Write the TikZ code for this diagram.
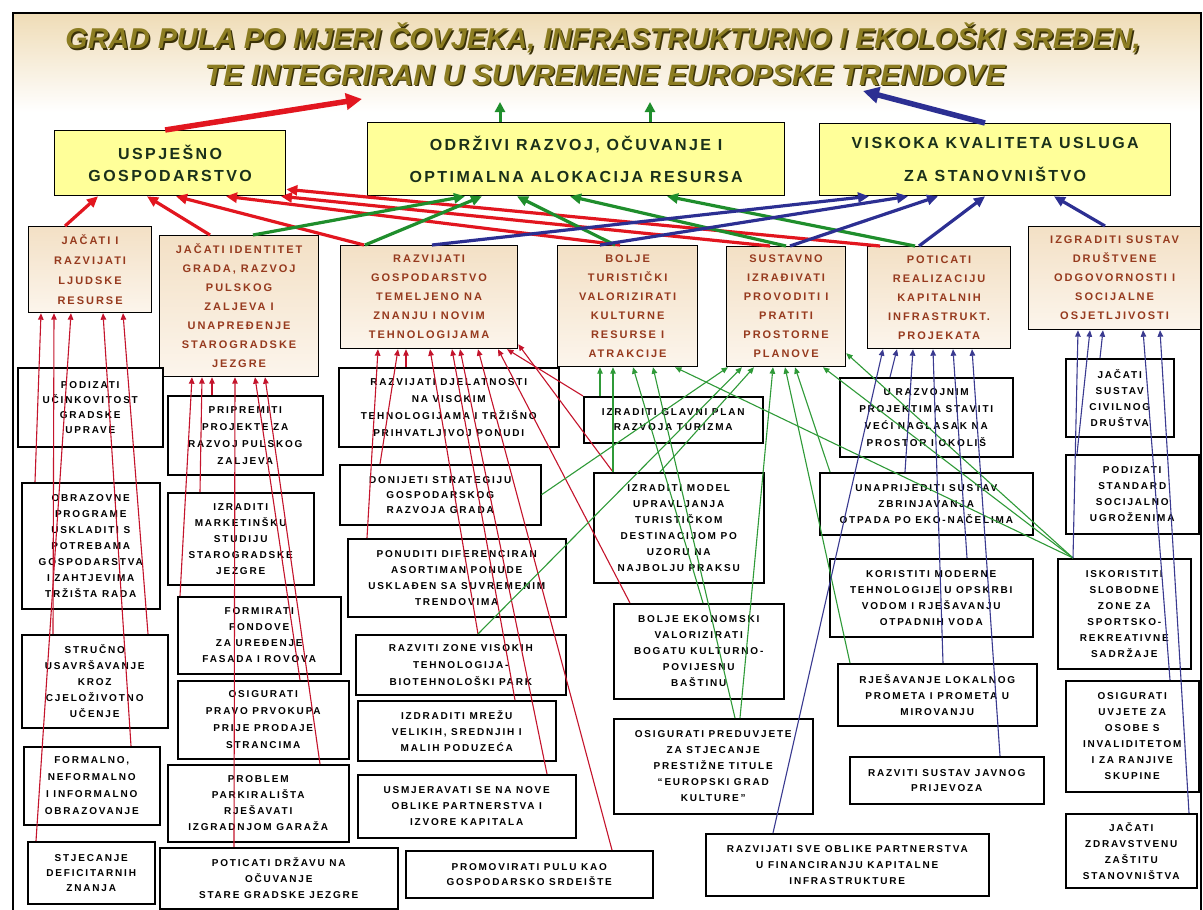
\documentclass[tikz,border=0pt]{standalone}
\usepackage{fontspec}
\usepackage{graphicx}
\setmainfont{Liberation Sans}
\newfontfamily\lvone[LetterSpace=15]{Liberation Sans}
\newfontfamily\lvtwo[LetterSpace=18]{Liberation Sans}
\newfontfamily\lvthree[LetterSpace=18]{Liberation Sans}
\newfontfamily\ttlfont{Liberation Sans}
\usetikzlibrary{arrows.meta}
\definecolor{tred}{HTML}{E2161F}
\definecolor{tgreen}{HTML}{1F8E2C}
\definecolor{tblue}{HTML}{2C2F92}
\definecolor{hred}{HTML}{C4142C}
\definecolor{hgreen}{HTML}{2F9A38}
\definecolor{hblue}{HTML}{3A3A90}
\definecolor{lonefill}{HTML}{FFFF99}
\definecolor{lonetext}{HTML}{1A301A}
\definecolor{ltwotop}{HTML}{F3E0C5}
\definecolor{ltwobot}{HTML}{FCF5EC}
\definecolor{ltwotext}{HTML}{963A1E}
\definecolor{ttlfill}{HTML}{8C7D22}
\definecolor{ttlshadow}{HTML}{3A3108}
\definecolor{bandtop}{HTML}{EFDCB6}
\newcommand\bx[7]{\node[#6, minimum width={(#4-#2)*1pt}, minimum height={(#5-#3)*1pt}, anchor=north west] (#1) at (#2,#3) {#7};}
\newcommand\lk[5][]{\draw[#1] ([xshift=#3pt]#2.north west) -- ([xshift=#5pt]#4.south west);}
\begin{document}
\begin{tikzpicture}[x=1pt,y=-1pt,
  l1/.style={draw=black, line width=1.3pt, fill=lonefill, text=lonetext, align=center, inner sep=0pt, font=\lvone\bfseries\fontsize{16}{#1}\selectfont},
  l1/.default=22,
  l2/.style={draw=black, line width=1.2pt, top color=ltwotop, bottom color=ltwobot, text=ltwotext, align=center, inner sep=0pt, font=\lvtwo\bfseries\fontsize{11}{#1}\selectfont},
  l2/.default=19,
  l3/.style={draw=black, line width=1.5pt, fill=white, align=center, inner sep=0pt, font=\lvthree\bfseries\fontsize{10}{#1}\selectfont},
  l3/.default=16,
  thk/.style={line width=3.2pt, -{Triangle[length=11pt,width=10pt]}},
  thn/.style={line width=1.1pt, -{Triangle[length=6.5pt,width=5.5pt]}},
  big/.style={line width=5.5pt, -{Triangle[length=16pt,width=16pt]}},
  ttl/.style={text=ttlfill, inner sep=0pt, font=\ttlfont\bfseries\itshape\fontsize{26}{30}\selectfont},
  ttlsh/.style={text=ttlshadow, inner sep=0pt, font=\ttlfont\bfseries\itshape\fontsize{26}{30}\selectfont}
]
\useasboundingbox (0,0) rectangle (1203,910);
\fill[white] (0,0) rectangle (1203,910);
\shade[top color=bandtop, bottom color=white] (13,13) rectangle (1201,112);
\draw[line width=2pt] (13,920) -- (13,13) -- (1201,13) -- (1201,920);

% title
\node[ttlsh] (t1s) at (604.5,39.5) {\resizebox{1075pt}{!}{GRAD PULA PO MJERI ČOVJEKA, INFRASTRUKTURNO I EKOLOŠKI SREĐEN,}};
\node[ttl] (t1) at (603,38) {\resizebox{1075pt}{!}{GRAD PULA PO MJERI ČOVJEKA, INFRASTRUKTURNO I EKOLOŠKI SREĐEN,}};
\node[ttlsh] (t2s) at (606.5,76.5) {\resizebox{800pt}{!}{TE INTEGRIRAN U SUVREMENE EUROPSKE TRENDOVE}};
\node[ttl] (t2) at (605,75) {\resizebox{800pt}{!}{TE INTEGRIRAN U SUVREMENE EUROPSKE TRENDOVE}};

% level 1
\bx{L1a}{54}{130}{285}{195}{l1=22}{USPJEŠNO\\GOSPODARSTVO}
\bx{L1b}{367}{122}{784}{195}{l1=32}{ODRŽIVI RAZVOJ, OČUVANJE I\\OPTIMALNA ALOKACIJA RESURSA}
\bx{L1c}{819}{123}{1170}{195}{l1=33}{VISKOKA KVALITETA USLUGA\\ZA STANOVNIŠTVO}

% level 2
\bx{L2a}{28}{226}{151}{312}{l2=20}{JAČATI I\\RAZVIJATI\\LJUDSKE\\RESURSE}
\bx{L2b}{159}{235}{318}{376}{l2}{JAČATI IDENTITET\\GRADA, RAZVOJ\\PULSKOG\\ZALJEVA I\\UNAPREĐENJE\\STAROGRADSKE\\JEZGRE}
\bx{L2c}{340}{245}{517}{348}{l2}{RAZVIJATI\\GOSPODARSTVO\\TEMELJENO NA\\ZNANJU I NOVIM\\TEHNOLOGIJAMA}
\bx{L2d}{557}{245}{697}{366}{l2}{BOLJE\\TURISTIČKI\\VALORIZIRATI\\KULTURNE\\RESURSE I\\ATRAKCIJE}
\bx{L2e}{726}{246}{845}{366}{l2}{SUSTAVNO\\IZRAĐIVATI\\PROVODITI I\\PRATITI\\PROSTORNE\\PLANOVE}
\bx{L2f}{867}{246}{1010}{348}{l2}{POTICATI\\REALIZACIJU\\KAPITALNIH\\INFRASTRUKT.\\PROJEKATA}
\bx{L2g}{1028}{226}{1200}{329}{l2}{IZGRADITI SUSTAV\\DRUŠTVENE\\ODGOVORNOSTI I\\SOCIJALNE\\OSJETLJIVOSTI}

% level 3
\bx{A1}{17}{367}{162}{446}{l3=15}{PODIZATI\\UČINKOVITOST\\GRADSKE\\UPRAVE}
\bx{A2}{21}{482}{159}{608}{l3}{OBRAZOVNE\\PROGRAME\\USKLADITI S\\POTREBAMA\\GOSPODARSTVA\\I ZAHTJEVIMA\\TRŽIŠTA RADA}
\bx{A3}{21}{634}{167}{727}{l3}{STRUČNO\\USAVRŠAVANJE\\KROZ\\CJELOŽIVOTNO\\UČENJE}
\bx{A4}{23}{746}{159}{824}{l3=17}{FORMALNO,\\NEFORMALNO\\I INFORMALNO\\OBRAZOVANJE}
\bx{A5}{27}{841}{154}{903}{l3=15}{STJECANJE\\DEFICITARNIH\\ZNANJA}
\bx{B1}{167}{395}{322}{474}{l3=17}{PRIPREMITI\\PROJEKTE ZA\\RAZVOJ PULSKOG\\ZALJEVA}
\bx{B2}{167}{492}{313}{584}{l3}{IZRADITI\\MARKETINŠKU\\STUDIJU\\STAROGRADSKE\\JEZGRE}
\bx{B3}{177}{596}{340}{673}{l3}{FORMIRATI\\FONDOVE\\ZA UREĐENJE\\FASADA I ROVOVA}
\bx{B4}{177}{680}{348}{758}{l3=17}{OSIGURATI\\PRAVO PRVOKUPA\\PRIJE PRODAJE\\STRANCIMA}
\bx{B5}{167}{764}{348}{841}{l3}{PROBLEM\\PARKIRALIŠTA\\RJEŠAVATI\\IZGRADNJOM GARAŽA}
\bx{B6}{159}{847}{397}{908}{l3}{POTICATI DRŽAVU NA\\OČUVANJE\\STARE GRADSKE JEZGRE}
\bx{C1}{338}{367}{558}{446}{l3=17}{RAZVIJATI DJELATNOSTI\\NA VISOKIM\\TEHNOLOGIJAMA I TRŽIŠNO\\PRIHVATLJIVOJ PONUDI}
\bx{C2}{339}{464}{540}{524}{l3=15}{DONIJETI STRATEGIJU\\GOSPODARSKOG\\RAZVOJA GRADA}
\bx{C3}{347}{538}{565}{616}{l3}{PONUDITI DIFERENCIRAN\\ASORTIMAN PONUDE\\USKLAĐEN SA SUVREMENIM\\TRENDOVIMA}
\bx{C4}{355}{634}{565}{694}{l3=17}{RAZVITI ZONE VISOKIH\\TEHNOLOGIJA-\\BIOTEHNOLOŠKI PARK}
\bx{C5}{357}{700}{555}{760}{l3}{IZDRADITI MREŽU\\VELIKIH, SREDNJIH I\\MALIH PODUZEĆA}
\bx{C6}{357}{774}{575}{837}{l3}{USMJERAVATI SE NA NOVE\\OBLIKE PARTNERSTVA I\\IZVORE KAPITALA}
\bx{C7}{405}{850}{652}{897}{l3=15}{PROMOVIRATI PULU KAO\\GOSPODARSKO SRDEIŠTE}
\bx{D1}{583}{396}{762}{442}{l3=15}{IZRADITI GLAVNI PLAN\\RAZVOJA TURIZMA}
\bx{D2}{593}{472}{763}{582}{l3}{IZRADITI MODEL\\UPRAVLJANJA\\TURISTIČKOM\\DESTINACIJOM PO\\UZORU NA\\NAJBOLJU PRAKSU}
\bx{D3}{613}{603}{783}{698}{l3}{BOLJE EKONOMSKI\\VALORIZIRATI\\BOGATU KULTURNO-\\POVIJESNU\\BAŠTINU}
\bx{D4}{613}{718}{812}{813}{l3}{OSIGURATI PREDUVJETE\\ZA STJECANJE\\PRESTIŽNE TITULE\\“EUROPSKI GRAD\\KULTURE”}
\bx{E1}{705}{833}{988}{895}{l3}{RAZVIJATI SVE OBLIKE PARTNERSTVA\\U FINANCIRANJU KAPITALNE\\INFRASTRUKTURE}
\bx{F1}{839}{377}{1012}{456}{l3=17}{U RAZVOJNIM\\PROJEKTIMA STAVITI\\VEĆI NAGLASAK NA\\PROSTOR I OKOLIŠ}
\bx{F2}{819}{472}{1032}{534}{l3}{UNAPRIJEDITI SUSTAV\\ZBRINJAVANJA\\OTPADA PO EKO-NAČELIMA}
\bx{F3}{829}{558}{1032}{636}{l3}{KORISTITI MODERNE\\TEHNOLOGIJE U OPSKRBI\\VODOM I RJEŠAVANJU\\OTPADNIH VODA}
\bx{F4}{837}{663}{1036}{725}{l3}{RJEŠAVANJE LOKALNOG\\PROMETA I PROMETA U\\MIROVANJU}
\bx{F5}{849}{756}{1043}{803}{l3=15}{RAZVITI SUSTAV JAVNOG\\PRIJEVOZA}
\bx{G1}{1065}{358}{1173}{436}{l3}{JAČATI\\SUSTAV\\CIVILNOG\\DRUŠTVA}
\bx{G2}{1065}{454}{1198}{533}{l3}{PODIZATI\\STANDARD\\SOCIJALNO\\UGROŽENIMA}
\bx{G3}{1057}{558}{1190}{668}{l3}{ISKORISTITI\\SLOBODNE\\ZONE ZA\\SPORTSKO-\\REKREATIVNE\\SADRŽAJE}
\bx{G4}{1065}{680}{1198}{791}{l3}{OSIGURATI\\UVJETE ZA\\OSOBE S\\INVALIDITETOM\\I ZA RANJIVE\\SKUPINE}
\bx{G5}{1065}{813}{1196}{887}{l3}{JAČATI\\ZDRAVSTVENU\\ZAŠTITU\\STANOVNIŠTVA}

% thin red
\lk[thn,draw=hred]{A2}{14}{L2a}{13}
\lk[thn,draw=hred]{A3}{32}{L2a}{26}
\lk[thn,draw=hred]{A5}{9}{L2a}{43}
\lk[thn,draw=hred]{A4}{108}{L2a}{75}
\lk[thn,draw=hred]{A3}{127}{L2a}{95}
\lk[thn,draw=hred]{B1}{45}{L2b}{53}
\lk[thn,draw=hred]{B2}{33}{L2b}{43}
\lk[thn,draw=hred]{B3}{3}{L2b}{33}
\lk[thn,draw=hred]{B6}{75}{L2b}{76}
\lk[thn,draw=hred]{B4}{123}{L2b}{96}
\lk[thn,draw=hred]{B5}{153}{L2b}{106}
\lk[thn,draw=hred]{C3}{20}{L2c}{38}
\lk[thn,draw=hred]{C2}{41}{L2c}{58}
\lk[thn,draw=hred]{C1}{68}{L2c}{66}
\lk[thn,draw=hred]{C4}{123}{L2c}{90}
\lk[thn,draw=hred]{C5}{158}{L2c}{112}
\lk[thn,draw=hred]{C6}{190}{L2c}{120}
\lk[thn,draw=hred]{C7}{207}{L2c}{138}
\lk[thn,draw=hred]{D3}{17}{L2c}{158}
\lk[thn,draw=hred]{D1}{0}{L2c}{167}
\draw[thn,draw=hred] ([xshift=20pt]D2.north west) -- ([yshift=5pt]L2c.south east);

% thin green
\lk[thn,draw=hgreen]{D1}{17}{L2d}{43}
\lk[thn,draw=hgreen]{D2}{20}{L2d}{56}
\lk[thn,draw=hgreen]{D3}{90}{L2d}{76}
\lk[thn,draw=hgreen]{D4}{122}{L2d}{96}
\lk[thn,draw=hgreen]{G3}{16}{L2d}{118}
\draw[thn,draw=hgreen] (C2.east) -- ([xshift=2pt]L2e.south west);
\lk[thn,draw=hgreen]{C4}{123}{L2e}{16}
\lk[thn,draw=hgreen]{D2}{67}{L2e}{28}
\lk[thn,draw=hgreen]{D4}{127}{L2e}{47}
\lk[thn,draw=hgreen]{F4}{13}{L2e}{59}
\lk[thn,draw=hgreen]{F2}{11}{L2e}{69}
\lk[thn,draw=hgreen]{G3}{16}{L2e}{97}
\draw[thn,draw=hgreen] ([xshift=16pt]G3.north west) -- ([yshift=14pt]L2e.south east);

% thin blue
\lk[thn,draw=hblue]{E1}{68}{L2f}{16}
\lk[thn,draw=hblue]{F1}{51}{L2f}{30}
\lk[thn,draw=hblue]{F2}{86}{L2f}{46}
\lk[thn,draw=hblue]{F4}{106}{L2f}{66}
\lk[thn,draw=hblue]{F3}{138}{L2f}{86}
\lk[thn,draw=hblue]{F5}{151}{L2f}{105}
\lk[thn,draw=hblue]{G3}{16}{L2g}{50}
\lk[thn,draw=hblue]{G2}{12}{L2g}{62}
\lk[thn,draw=hblue]{G1}{35}{L2g}{75}
\lk[thn,draw=hblue]{G4}{105}{L2g}{115}
\lk[thn,draw=hblue]{G5}{124}{L2g}{132}

% thick red
\lk[thk,draw=tred]{L2a}{37}{L1a}{44}
\lk[thk,draw=tred]{L2b}{51}{L1a}{93}
\lk[thk,draw=tred]{L2c}{24}{L1a}{122}
\lk[thk,draw=tred]{L2d}{63}{L1a}{172}
\lk[thk,draw=tred]{L2e}{44}{L1a}{227}
\draw[thk,draw=tred] ([xshift=13pt]L2f.north west) -- ([yshift=7pt]L1a.south east);
% thick green
\lk[thk,draw=tgreen]{L2b}{94}{L1b}{98}
\lk[thk,draw=tgreen]{L2c}{25}{L1b}{115}
\lk[thk,draw=tgreen]{L2d}{58}{L1b}{150}
\lk[thk,draw=tgreen]{L2e}{60}{L1b}{203}
\lk[thk,draw=tgreen]{L2f}{48}{L1b}{300}
% thick blue
\lk[thk,draw=tblue]{L2c}{92}{L1c}{50}
\lk[thk,draw=tblue]{L2d}{43}{L1c}{89}
\lk[thk,draw=tblue]{L2e}{64}{L1c}{119}
\lk[thk,draw=tblue]{L2f}{52}{L1c}{166}
\lk[thk,draw=tblue]{L2g}{77}{L1c}{235}

% top arrows
\coordinate (tipR) at (362,99);
\coordinate (tipG1) at (500,102);
\coordinate (tipG2) at (650,102);
\coordinate (tipB) at (863,91);
\draw[big,draw=tred] ([xshift=-5pt]L1a.north) -- (tipR);
\draw[line width=3pt,draw=tgreen,-{Triangle[length=10pt,width=10pt]}] ([xshift=133pt]L1b.north west) -- (tipG1);
\draw[line width=3pt,draw=tgreen,-{Triangle[length=10pt,width=10pt]}] ([xshift=283pt]L1b.north west) -- (tipG2);
\draw[big,draw=tblue] ([xshift=166pt]L1c.north west) -- (tipB);
\end{tikzpicture}
\end{document}
